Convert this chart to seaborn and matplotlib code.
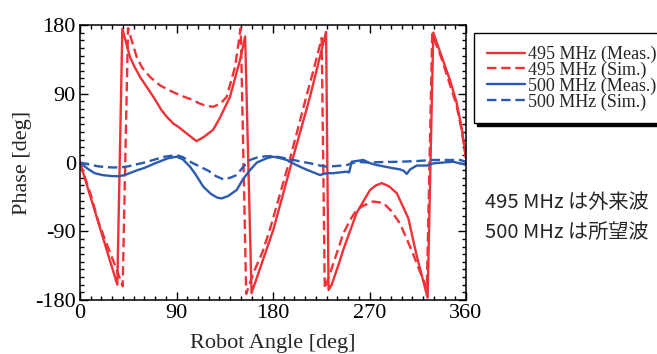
import numpy as np
import pandas as pd
import matplotlib
matplotlib.use("Agg")
import matplotlib.pyplot as plt
from matplotlib.ticker import MultipleLocator
import seaborn as sns

# --- data ---
x_495_meas = [0, 17, 34.8, 39.5, 46.6, 51, 56, 68.4, 75.8, 80.8, 87, 91.4, 99.5, 108.6, 115, 124.3,
              131, 139.9, 149.2, 154, 160, 180.3, 198, 214.5, 229.5, 231.8, 234.7, 242.5, 245.6, 258,
              270.5, 276, 281.4, 288, 295.4, 306.2, 314, 324.2, 329.5, 337, 345, 351, 356, 360]
y_495_meas = [0, -78, -160, 175, 138, 125, 112, 86, 69, 60, 51, 47, 38, 28, 33, 43,
              60, 86, 134, 165, -171, -88, 3, 86, 171, -167, -160, -128, -114, -66,
              -36, -30, -27, -31, -40, -73, -122, -177, 170, 140, 108, 80, 45, 5]

x_495_sim = [0, 10, 16.8, 23, 29.2, 35.4, 39.8, 44.8, 52.9, 58, 65.3, 74.6, 84, 93.3, 103, 112, 118,
             124.3, 131, 136.8, 144.6, 149.9, 155, 161.6, 170, 177, 186, 195.5, 203, 211, 218, 225.4,
             228.3, 236.3, 245.6, 252, 258, 265, 273.6, 282.9, 290, 298.5, 309.3, 320.2, 323.5,
             328.5, 337, 345, 351, 356, 360]
y_495_sim = [0, -42, -76, -100, -122, -145, -162, 176, 138, 124, 112, 101, 94, 88, 83, 77, 74,
             73, 77, 86, 125, 176, -172, -145, -118, -88, -44, 3, 43, 86, 122, 163,
             -165, -132, -93, -75, -62, -56, -51, -53, -63, -80, -115, -154, -165,
             168, 137, 102, 76, 42, 5]

x_500_meas = [0, 7, 13.7, 21, 29.2, 36, 41.7, 48, 54, 60.3, 70, 82, 90.2, 96, 102.6, 108, 115, 122,
              128, 132.1, 138, 146.1, 152, 158.6, 165, 174.1, 180, 186, 192.8, 200, 208.3, 216,
              223.8, 230, 236.3, 242, 248.7, 251, 253.4, 258, 264.3, 270.5, 276.7, 283, 290, 298.5,
              302, 304.7, 308, 314, 323.4, 330, 339, 348, 354, 360]
y_500_meas = [0, -8, -14, -16.5, -17.7, -18, -16.4, -13, -9.8, -7, -1, 5.5, 7.6, 4, -5.5, -16, -31.7, -41,
              -46, -47, -44, -36, -22, -9.8, 0, 5.5, 7.6, 6, 3.3, -2, -7.6, -12,
              -16.4, -14, -14, -13, -12, -13, 1, 2, 3.3, -1, -3.3, -5, -7, -9,
              -11, -15, -9, -4, -4, -1, 0, 1, -1, -3]

x_500_sim = [0, 8, 16.8, 25, 30, 38.5, 45, 54, 60.3, 70, 79, 90.2, 96, 104, 112, 120, 127, 133.7,
             140, 146.1, 152, 158.6, 165, 172, 180, 188, 195.9, 205, 214.5, 222, 230, 240, 248.7,
             258, 267.4, 280, 298.5, 315, 329.5, 345, 354.4, 360]
y_500_sim = [0, -2.5, -5, -6, -6.5, -6.3, -5, -2, 0, 4, 7.6, 9.8, 7, 0, -5.5, -11, -18, -22,
             -20, -16.4, -6, 3.3, 6.5, 8, 8.5, 6.5, 4.2, 1.5, -1, -3.5, -5.5, -4.5, -3.3,
             1, 0, 0.5, 1, 2, 3.3, 3.3, 3.3, 1]

series = [
    ("495 MHz (Meas.)", x_495_meas, y_495_meas),
    ("495 MHz (Sim.)", x_495_sim, y_495_sim),
    ("500 MHz (Meas.)", x_500_meas, y_500_meas),
    ("500 MHz (Sim.)", x_500_sim, y_500_sim),
]
colors = {"495": "#EF3237", "500": "#2B5BB0"}

sns.set_style("ticks")
plt.rcParams["font.family"] = ["Liberation Serif", "DejaVu Serif"]
plt.rcParams["axes.unicode_minus"] = False

fig = plt.figure(figsize=(6.57, 3.54), dpi=100)
ax = fig.add_axes([80 / 657, 54 / 354, 386 / 657, 275 / 354])

for name, xs, ys in series:
    df = pd.DataFrame({"angle": xs, "phase": ys})
    col = colors[name[:3]]
    sns.lineplot(data=df, x="angle", y="phase", ax=ax, color=col, lw=1.7,
                 estimator=None, sort=False, label=name)
    if "Sim" in name:
        ax.lines[-1].set_dashes((4, 2))

ax.set_xlim(0, 360)
ax.set_ylim(-180, 180)
ax.xaxis.set_major_locator(MultipleLocator(90))
ax.xaxis.set_minor_locator(MultipleLocator(10))
ax.yaxis.set_major_locator(MultipleLocator(90))
ax.yaxis.set_minor_locator(MultipleLocator(10))
ax.tick_params(which="both", direction="in", top=True, right=True, colors="black",
               labelsize=16, width=1)
ax.tick_params(which="major", length=6, pad=3)
ax.tick_params(which="minor", length=3)
for sp in ax.spines.values():
    sp.set_visible(True)
    sp.set_linewidth(1.1)
    sp.set_color("black")
ax.set_xlabel("Robot Angle [deg]", fontsize=16, labelpad=8)
ax.set_ylabel("Phase [deg]", fontsize=16, labelpad=2)

leg = ax.legend(loc="upper left", bbox_to_anchor=(474 / 657, 1 - 33 / 354),
                bbox_transform=fig.transFigure, fontsize=13, frameon=True, fancybox=False,
                edgecolor="black", framealpha=1, borderpad=0.7, borderaxespad=0,
                handlelength=2.1, handletextpad=0.2, labelspacing=-0.08,
                shadow={"color": "black", "alpha": 1})
leg.get_frame().set_linewidth(1.0)

fig.text(485 / 657, 1 - 203 / 354, "495 MHz は外来波", fontsize=14.5, va="center",
         family=["Noto Sans CJK JP", "DejaVu Sans"])
fig.text(485 / 657, 1 - 232 / 354, "500 MHz は所望波", fontsize=14.5, va="center",
         family=["Noto Sans CJK JP", "DejaVu Sans"])

fig.savefig("out.png", dpi=100)
